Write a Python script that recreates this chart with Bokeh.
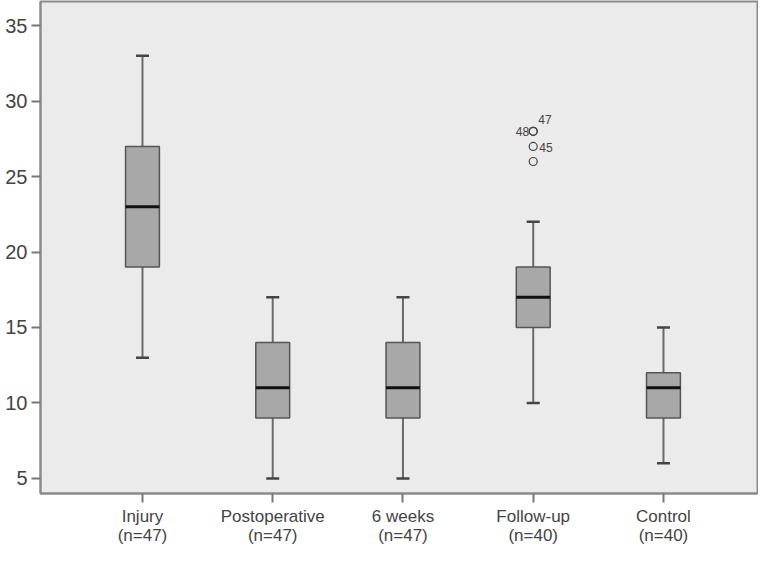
from bokeh.plotting import figure
from bokeh.models import Range1d, FixedTicker
from bokeh.core.properties import value
from bokeh.embed import file_html
from bokeh.resources import INLINE

categories = ["Injury", "Postoperative", "6 weeks", "Follow-up", "Control"]
counts = [47, 47, 47, 40, 40]
lower = [13, 5, 5, 10, 6]
q1 = [19, 9, 9, 15, 9]
median = [23, 11, 11, 17, 11]
q3 = [27, 14, 14, 19, 12]
upper = [33, 17, 17, 22, 15]

outlier_group = [3, 3, 3, 3]
outlier_values = [28, 28, 27, 26]
outlier_labels = ["48", "47", "45", ""]
label_dx = [-4, 5, 6, 0]
label_dy = [0, -12, 1, 0]
label_align = ["right", "left", "left", "left"]

y_ticks = [5, 10, 15, 20, 25, 30, 35]

xs = list(range(len(categories)))
box_w = 0.26
cap_w = 0.10

p = figure(width=758, height=547, output_backend="svg", toolbar_location=None,
           x_range=Range1d(-0.783, 4.722),
           y_range=Range1d(4.0, 36.6),
           min_border_left=40, min_border_right=1, min_border_top=1, min_border_bottom=50)

p.background_fill_color = "#ebebeb"
p.border_fill_color = "white"
p.outline_line_color = "#8a8a8a"
p.outline_line_width = 2
p.xgrid.visible = False
p.ygrid.visible = False

# whiskers
p.segment(x0=xs, y0=q3, x1=xs, y1=upper, line_color="#6a6a6a", line_width=2)
p.segment(x0=xs, y0=q1, x1=xs, y1=lower, line_color="#6a6a6a", line_width=2)
p.segment(x0=[x - cap_w / 2 for x in xs], y0=upper, x1=[x + cap_w / 2 for x in xs], y1=upper,
          line_color="#444444", line_width=2.5)
p.segment(x0=[x - cap_w / 2 for x in xs], y0=lower, x1=[x + cap_w / 2 for x in xs], y1=lower,
          line_color="#444444", line_width=2.5)
# boxes
p.vbar(x=xs, width=box_w, bottom=q1, top=q3, fill_color="#a8a8a8", line_color="#555555", line_width=1.5)
# medians
p.segment(x0=[x - box_w / 2 for x in xs], y0=median, x1=[x + box_w / 2 for x in xs], y1=median,
          line_color="#111111", line_width=3)

# outliers
p.scatter(x=outlier_group, y=outlier_values, marker="circle", size=8, fill_color=None,
          line_color="#444444", line_width=1.2)
for gx, yv, lab, dx, dy, al in zip(outlier_group, outlier_values, outlier_labels, label_dx, label_dy, label_align):
    if lab:
        p.text(x=[gx], y=[yv], text=[lab], x_offset=dx, y_offset=dy, text_align=al,
               text_baseline="middle", text_font=value("Liberation Sans"), text_font_size="12px",
               text_color="#444444")

# axes
p.xaxis.ticker = FixedTicker(ticks=xs)
p.xaxis.major_label_overrides = {i: f"{c}\n(n={n})" for i, (c, n) in enumerate(zip(categories, counts))}
p.yaxis.ticker = FixedTicker(ticks=y_ticks)
for ax in (p.xaxis, p.yaxis):
    ax.axis_line_color = "#8a8a8a"
    ax.axis_line_width = 2
    ax.major_tick_line_color = "#777777"
    ax.major_tick_line_width = 2
    ax.major_tick_out = 9
    ax.major_tick_in = 0
    ax.minor_tick_line_color = None
    ax.major_label_text_color = "#444444"
    ax.major_label_text_font = "Liberation Sans"
p.yaxis.major_label_text_font_size = "20px"
p.yaxis.major_label_standoff = 4
p.xaxis.major_label_text_font_size = "17px"
p.xaxis.major_label_standoff = 4
p.xaxis.major_label_text_line_height = 1.0

open("out.html", "w").write(file_html(p, INLINE))
